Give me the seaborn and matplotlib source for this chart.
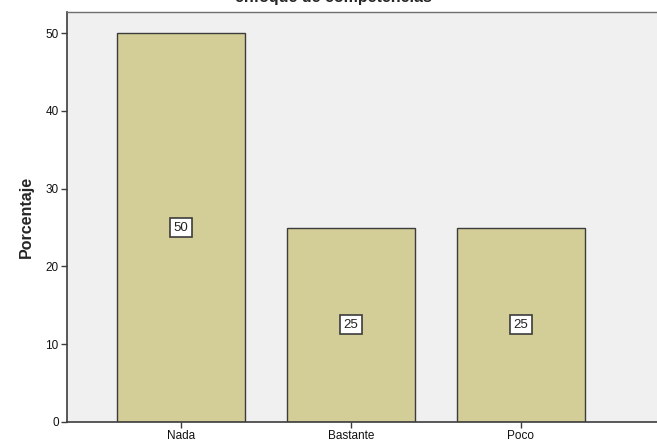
import matplotlib
matplotlib.use("Agg")
import matplotlib.pyplot as plt
import seaborn as sns
import pandas as pd

categories = ["Nada", "Bastante", "Poco"]
percentages = [50, 25, 25]
title = "enfoque de competencias"

df = pd.DataFrame({"cat": categories, "pct": percentages})

sns.set_style("white")
plt.rcParams["font.family"] = ["Liberation Sans", "DejaVu Sans"]

fig = plt.figure(figsize=(6.57, 4.47), dpi=100)
ax = fig.add_axes([67 / 657, 25 / 447, 1 - 67 / 657, (422 - 12) / 447])
ax.set_facecolor("#f0f0f0")

sns.barplot(data=df, x="cat", y="pct", color="#d3ce97", saturation=1,
            width=0.753, edgecolor="#3c3c3c", linewidth=1.0, ax=ax)

# value labels in white boxes at half height
for i, v in enumerate(percentages):
    ax.text(i, v / 2, str(v), ha="center", va="center", fontsize=9.5,
            color="#222222",
            bbox=dict(boxstyle="square,pad=0.25", fc="white", ec="#3c3c3c", lw=1.2))

ax.set_xlim(-0.67, 2.8)
ax.set_ylim(0, 52.7)
ax.set_yticks([0, 10, 20, 30, 40, 50])
ax.set_xlabel("")
ax.set_ylabel("Porcentaje", fontsize=11.5, fontweight="bold", labelpad=8)
ax.tick_params(axis="both", length=4, width=1, color="#3c3c3c",
               labelsize=8.5, labelcolor="#111111", pad=2, bottom=True, left=True)

for s in ["left", "bottom"]:
    ax.spines[s].set_color("#3c3c3c")
    ax.spines[s].set_linewidth(1.2)
ax.spines["top"].set_color("#6e6e6e")
ax.spines["top"].set_linewidth(1.0)
ax.spines["right"].set_visible(False)

fig.text(0.507, 1 - 2 / 447, title, ha="center", va="baseline",
         fontsize=11.5, fontweight="bold")

fig.savefig("out.png", dpi=100)
plt.close(fig)
